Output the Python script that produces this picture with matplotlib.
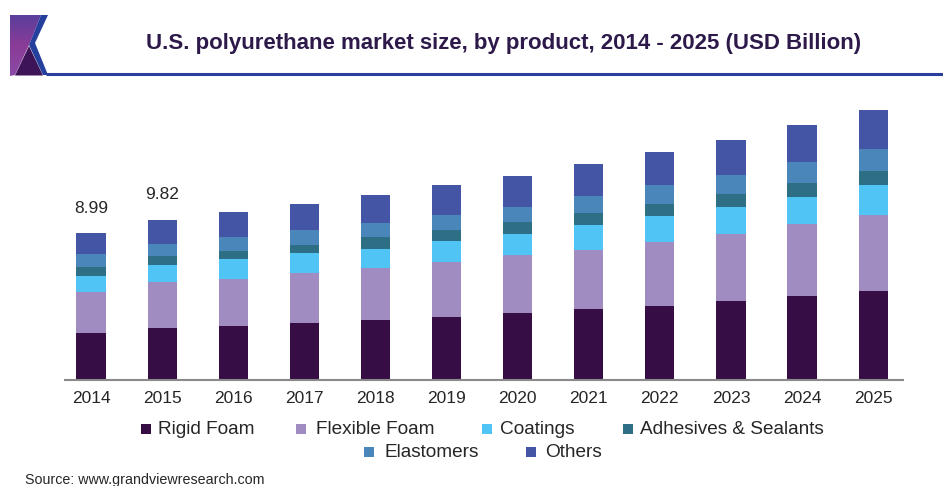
import matplotlib
matplotlib.use('Agg')
import matplotlib.pyplot as plt
import numpy as np
from matplotlib.patches import Polygon, Rectangle
from matplotlib.colors import LinearSegmentedColormap

plt.rcParams['font.family'] = ['Liberation Sans', 'DejaVu Sans']

years = ['2014', '2015', '2016', '2017', '2018', '2019', '2020', '2021', '2022', '2023', '2024', '2025']

# USD billion per product
rigid_foam = [2.91, 3.19, 3.31, 3.50, 3.68, 3.87, 4.08, 4.33, 4.57, 4.85, 5.15, 5.48]
flexible_foam = [2.50, 2.80, 2.88, 3.07, 3.19, 3.37, 3.59, 3.65, 3.90, 4.11, 4.40, 4.64]
coatings = [0.96, 1.09, 1.21, 1.23, 1.17, 1.29, 1.29, 1.53, 1.60, 1.66, 1.67, 1.84]
adhesives = [0.57, 0.55, 0.53, 0.49, 0.74, 0.67, 0.74, 0.74, 0.74, 0.80, 0.88, 0.88]
elastomers = [0.78, 0.72, 0.82, 0.92, 0.86, 0.92, 0.92, 1.04, 1.17, 1.17, 1.25, 1.31]
others = [1.27, 1.47, 1.53, 1.60, 1.72, 1.84, 1.90, 1.96, 2.02, 2.15, 2.29, 2.41]

labelled_totals = {0: '8.99', 1: '9.82'}

series = [
    ('Rigid Foam', rigid_foam, '#360d45'),
    ('Flexible Foam', flexible_foam, '#a08cc0'),
    ('Coatings', coatings, '#50c4f5'),
    ('Adhesives & Sealants', adhesives, '#2f6f85'),
    ('Elastomers', elastomers, '#4b86bb'),
    ('Others', others, '#4455a6'),
]

W, H = 943, 486
TEXT = '#262626'

fig = plt.figure(figsize=(W / 100, H / 100), dpi=100, facecolor='white')

# chart area, 16.3 px per billion above the baseline
ax = fig.add_axes([65 / W, (H - 380) / H, 838 / W, 280 / H])
x = np.arange(len(years))
bottom = np.zeros(len(years))
for name, values, color in series:
    ax.bar(x, values, width=0.41, bottom=bottom, color=color, label=name)
    bottom += np.array(values)

for i, label in labelled_totals.items():
    ax.annotate(label, (x[i], bottom[i]), xytext=(0, 18), textcoords='offset points',
                ha='center', va='center', fontsize=12.5, color=TEXT)

ax.set_xlim(-0.366, 11.42)
ax.set_ylim(0, 280 / 16.3)
ax.set_xticks(x)
ax.set_xticklabels(years, fontsize=12.5, color=TEXT)
ax.tick_params(axis='x', length=0, pad=8)
ax.set_yticks([])
for side in ['top', 'left', 'right']:
    ax.spines[side].set_visible(False)
ax.spines['bottom'].set_color('#8a8a8a')
ax.spines['bottom'].set_linewidth(1.5)

# header, legend and source are laid out in pixel coordinates
overlay = fig.add_axes([0, 0, 1, 1], facecolor='none')
overlay.set_xlim(0, W)
overlay.set_ylim(H, 0)
overlay.axis('off')

purple_cmap = LinearSegmentedColormap.from_list('logo', ['#5a3f9c', '#8a3c97', '#8a4aa6'])
gradient = overlay.imshow(np.linspace(0, 1, 64).reshape(-1, 1), cmap=purple_cmap,
                          extent=(10, 48, 76, 15), aspect='auto', zorder=2)
logo_back = Polygon([(10, 15), (41, 15), (29, 45), (15, 75), (10, 76)], closed=True,
                    facecolor='none', edgecolor='none', transform=overlay.transData)
overlay.add_patch(logo_back)
gradient.set_clip_path(logo_back)
overlay.add_patch(Polygon([(15, 75.5), (29, 46), (43, 75.5)], closed=True, facecolor='#3d1458',
                          edgecolor='none', zorder=3))
overlay.add_patch(Polygon([(41, 15), (48, 15), (35, 43), (48, 75), (43, 75), (29, 45)], closed=True,
                          facecolor='#24409c', edgecolor='none', zorder=4))
overlay.plot([46, W], [74, 74], color='#2a3f9e', linewidth=2.2, solid_capstyle='butt', zorder=4)

overlay.text(503.5, 43, 'U.S. polyurethane market size, by product, 2014 - 2025 (USD Billion)',
             ha='center', va='center', fontsize=16, fontweight='bold', color='#2d1a4a')

legend_slots = [(146, 158, 429), (301, 316, 429), (487, 500, 429), (628, 640, 429),
                (369, 384, 452), (531, 545, 452)]
for (name, values, color), (box_x, text_x, y) in zip(series, legend_slots):
    overlay.add_patch(Rectangle((box_x - 5, y - 5), 10, 10, facecolor=color, edgecolor='none'))
    overlay.text(text_x, y, name, ha='left', va='center', fontsize=13.7, color=TEXT)

overlay.text(25, 480, 'Source: www.grandviewresearch.com', ha='left', va='center',
             fontsize=10.3, color=TEXT)
overlay.set_xlim(0, W)
overlay.set_ylim(H, 0)

fig.savefig('out.png', dpi=100)
